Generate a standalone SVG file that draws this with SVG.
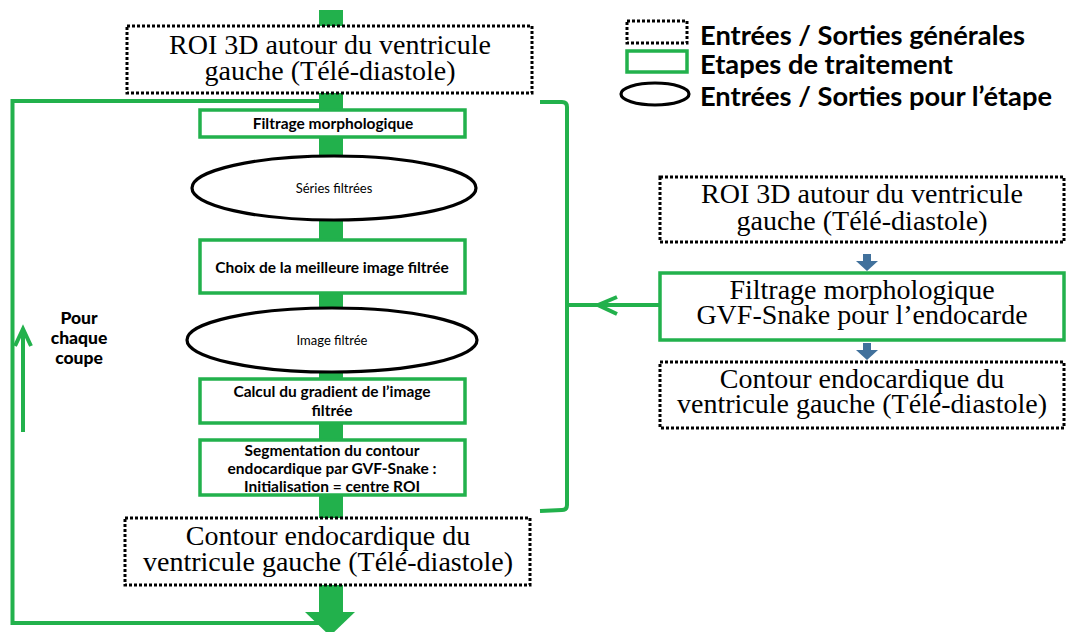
<svg xmlns="http://www.w3.org/2000/svg" width="1066" height="632" viewBox="0 0 1066 632">
<style>
.io{fill:#fff;stroke:#000;stroke-width:3;stroke-dasharray:3 2}
.step{fill:#fff;stroke:#22B14C;stroke-width:3.5}
.ell{fill:#fff;stroke:#000;stroke-width:3.2}
.serif{font-family:"Liberation Serif","Times New Roman",serif;font-size:28px;fill:#000;text-anchor:middle}
.b{font-family:Lato,"Open Sans",sans-serif;font-weight:bold;font-size:15.5px;fill:#000;text-anchor:middle}
.r{font-family:Lato,"Open Sans",sans-serif;font-size:13px;fill:#000;text-anchor:middle}
.leg{font-family:Lato,"Open Sans",sans-serif;font-weight:bold;font-size:26px;fill:#000}
.lp{font-family:Lato,"Open Sans",sans-serif;font-weight:900;font-size:17.5px;fill:#000;text-anchor:middle}
.gl{fill:none;stroke:#22B14C;stroke-width:4}
.blue{fill:#41719C}
</style>
<rect width="1066" height="632" fill="#fff"/>
<g id="connectors">
<rect x="319" y="10" width="24" height="603" fill="#22B14C"/>
<polygon points="305,612 355,612 330,636" fill="#22B14C"/>
<path class="gl" d="M331 101 L12.5 101 L12.5 623 L328 623"/>
<path class="gl" d="M23 432 L23 330 M15 346 L23 329 L31 346"/>
<path class="gl" d="M540 102 L562 102 Q567 102 567 107 L567 505 Q567 510 562 510 L540 511"/>
<path class="gl" d="M660 305 L567 305 M617 297 L598 305 L617 314"/>
<path class="blue" d="M863 254 L871 254 L871 261 L878 261 L867 271 L856 261 L863 261 Z"/>
<path class="blue" d="M863 343 L871 343 L871 350 L878 350 L867 360 L856 350 L863 350 Z"/>
</g>
<g id="roi-top">
<rect class="io" x="127" y="26" width="405" height="67"/>
<text class="serif" x="330" y="54">ROI 3D autour du ventricule</text>
<text class="serif" x="330" y="80">gauche (Télé-diastole)</text>
</g>
<g id="filtrage">
<rect class="step" x="200" y="110" width="265" height="27"/>
<text class="b" x="333" y="129">Filtrage morphologique</text>
</g>
<g id="series">
<ellipse class="ell" cx="334" cy="188" rx="142" ry="32"/>
<text class="r" x="334" y="193">Séries filtrées</text>
</g>
<g id="choix">
<rect class="step" x="200" y="240" width="265" height="53"/>
<text class="b" x="332" y="273">Choix de la meilleure image filtrée</text>
</g>
<g id="image">
<ellipse class="ell" cx="332" cy="340" rx="145" ry="32"/>
<text class="r" x="332" y="345">Image filtrée</text>
</g>
<g id="calcul">
<rect class="step" x="200" y="379" width="265" height="44"/>
<text class="b" x="332" y="397">Calcul du gradient de l’image</text>
<text class="b" x="332" y="416">filtrée</text>
</g>
<g id="segmentation">
<rect class="step" x="200" y="440" width="265" height="55"/>
<text class="b" x="332" y="456">Segmentation du contour</text>
<text class="b" x="332" y="474">endocardique par GVF-Snake :</text>
<text class="b" x="332" y="492">Initialisation = centre ROI</text>
</g>
<g id="contour-bottom">
<rect class="io" x="125" y="518" width="405" height="67"/>
<text class="serif" x="328" y="545">Contour endocardique du</text>
<text class="serif" x="328" y="571">ventricule gauche (Télé-diastole)</text>
</g>
<g id="loop-label">
<text class="lp" x="79" y="324">Pour</text>
<text class="lp" x="79" y="344">chaque</text>
<text class="lp" x="79" y="364">coupe</text>
</g>
<g id="legend">
<rect class="io" x="627" y="21" width="60" height="22"/>
<rect class="step" x="627" y="51" width="60" height="21"/>
<ellipse class="ell" cx="655" cy="94" rx="34" ry="11"/>
<text class="leg" x="700" y="45" textLength="325" lengthAdjust="spacingAndGlyphs">Entrées / Sorties générales</text>
<text class="leg" x="700" y="74" textLength="253" lengthAdjust="spacingAndGlyphs">Etapes de traitement</text>
<text class="leg" x="700" y="106" textLength="352" lengthAdjust="spacingAndGlyphs">Entrées / Sorties pour l’étape</text>
</g>
<g id="roi-right">
<rect class="io" x="660" y="177" width="404" height="65"/>
<text class="serif" x="862" y="203">ROI 3D autour du ventricule</text>
<text class="serif" x="862" y="230">gauche (Télé-diastole)</text>
</g>
<g id="gvf-right">
<rect class="step" x="660" y="273" width="404" height="67"/>
<text class="serif" x="862" y="299">Filtrage morphologique</text>
<text class="serif" x="862" y="324">GVF-Snake pour l’endocarde</text>
</g>
<g id="contour-right">
<rect class="io" x="660" y="362" width="404" height="66"/>
<text class="serif" x="862" y="388">Contour endocardique du</text>
<text class="serif" x="862" y="413">ventricule gauche (Télé-diastole)</text>
</g>
</svg>
